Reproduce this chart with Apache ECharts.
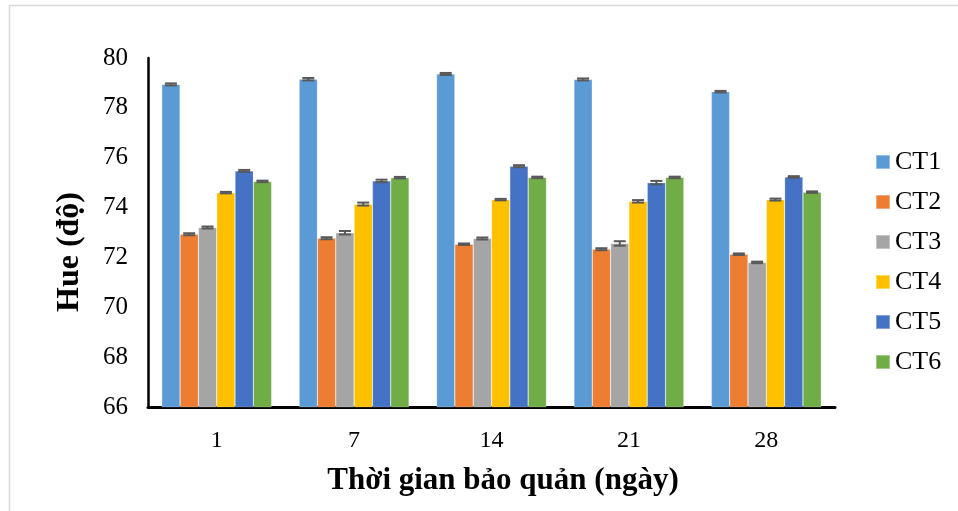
<!DOCTYPE html>
<html>
<head>
<meta charset="utf-8">
<script src="https://cdn.jsdelivr.net/npm/echarts@6/dist/echarts.min.js"></script>
<style>html,body{margin:0;padding:0;background:#fff;}#c{width:958px;height:511px;}</style>
</head>
<body>
<div id="c"></div>
<script>
const categories = ['1', '7', '14', '21', '28'];
const seriesNames = ['CT1', 'CT2', 'CT3', 'CT4', 'CT5', 'CT6'];
const CT1 = [78.94, 79.15, 79.36, 79.14, 78.65];
const CT2 = [72.93, 72.77, 72.53, 72.33, 72.13];
const CT3 = [73.20, 72.99, 72.76, 72.56, 71.80];
const CT4 = [74.60, 74.14, 74.32, 74.25, 74.32];
const CT5 = [75.47, 75.07, 75.66, 75.00, 75.23];
const CT6 = [75.05, 75.20, 75.21, 75.21, 74.62];
const ERR1 = [0.04, 0.05, 0.04, 0.04, 0.03];
const ERR2 = [0.04, 0.04, 0.03, 0.04, 0.03];
const ERR3 = [0.04, 0.07, 0.04, 0.09, 0.03];
const ERR4 = [0.03, 0.06, 0.03, 0.05, 0.04];
const ERR5 = [0.04, 0.05, 0.04, 0.07, 0.03];
const ERR6 = [0.03, 0.03, 0.03, 0.03, 0.03];
const yTicks = [66, 68, 70, 72, 74, 76, 78, 80];
const xTitle = 'Thời gian bảo quản (ngày)';
const yTitle = 'Hue (độ)';

const values = [CT1, CT2, CT3, CT4, CT5, CT6];
const errors = [ERR1, ERR2, ERR3, ERR4, ERR5, ERR6];
const colors = ['#5B9BD5', '#ED7D31', '#A5A5A5', '#FFC000', '#4472C4', '#70AD47'];
const FONT = '"Liberation Serif", "Times New Roman", serif';
const CAT_GAP = 0.2;

const series = [];
seriesNames.forEach((name, i) => {
  series.push({
    name: name, type: 'bar', data: values[i],
    barGap: '0%', barCategoryGap: (CAT_GAP * 100) + '%',
    itemStyle: { color: colors[i], borderColor: 'rgba(255,255,255,0.35)', borderWidth: 0.6 },
    z: 2
  });
});
seriesNames.forEach((name, i) => {
  series.push({
    name: 'err-' + name, type: 'custom', z: 10, silent: true,
    data: values[i].map((v, k) => [k, v - errors[i][k], v + errors[i][k]]),
    renderItem: function (params, api) {
      const band = api.size([1, 0])[0];
      const bw = band * (1 - CAT_GAP) / seriesNames.length;
      const off = -band * (1 - CAT_GAP) / 2 + bw * (i + 0.5);
      const lo = api.coord([api.value(0), api.value(1)]);
      const hi = api.coord([api.value(0), api.value(2)]);
      const x = lo[0] + off;
      const hw = 6;
      const st = { stroke: '#595959', lineWidth: 2 };
      return { type: 'group', children: [
        { type: 'line', shape: { x1: x, y1: lo[1], x2: x, y2: hi[1] }, style: st },
        { type: 'line', shape: { x1: x - hw, y1: lo[1], x2: x + hw, y2: lo[1] }, style: st },
        { type: 'line', shape: { x1: x - hw, y1: hi[1], x2: x + hw, y2: hi[1] }, style: st }
      ] };
    }
  });
});

const chart = echarts.init(document.getElementById('c'), null, { renderer: 'canvas' });
chart.setOption({
  animation: false,
  backgroundColor: '#fff',
  textStyle: { fontFamily: FONT },
  graphic: [{
    type: 'rect', left: 7, top: 3, shape: { width: 1000, height: 600 },
    style: { fill: 'none', stroke: '#d9d9d9', lineWidth: 1.5 }, silent: true
  }, {
    type: 'text', x: 503, y: 481, silent: true,
    style: { text: xTitle, font: 'bold 31px ' + FONT, fill: '#000', align: 'center', verticalAlign: 'middle' }
  }, {
    type: 'text', x: 70, y: 252, rotation: Math.PI / 2, silent: true,
    style: { text: yTitle, font: 'bold 32px ' + FONT, fill: '#000', align: 'center', verticalAlign: 'middle' }
  }],
  grid: { left: 148, right: 123, top: 58, bottom: 104, containLabel: false, outerBoundsMode: 'none' },
  legend: {
    data: seriesNames, orient: 'vertical', left: 870, top: 144,
    icon: 'rect', itemWidth: 14, itemHeight: 14, itemGap: 14,
    textStyle: { fontFamily: FONT, fontSize: 26, color: '#000', lineHeight: 24 }
  },
  xAxis: {
    type: 'category', data: categories,
    axisLine: { lineStyle: { color: '#000', width: 3 } },
    axisTick: { show: false },
    axisLabel: { fontFamily: FONT, fontSize: 24, color: '#000', margin: 22 }
  },
  yAxis: {
    type: 'value', min: yTicks[0], max: yTicks[yTicks.length - 1], interval: 2,
    axisLine: { show: true, lineStyle: { color: '#000', width: 2.5 } },
    axisTick: { show: false },
    splitLine: { show: false },
    axisLabel: { fontFamily: FONT, fontSize: 25, color: '#000', margin: 20 }
  },
  series: series
});
</script>
</body>
</html>
